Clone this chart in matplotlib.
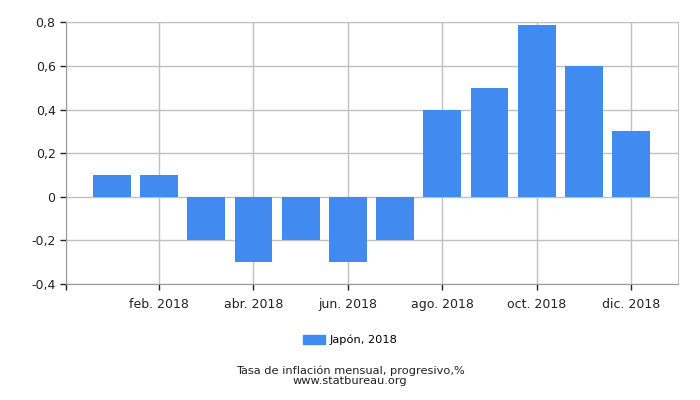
import matplotlib.pyplot as plt
from matplotlib.patches import Patch

meses = list(range(12))
valores = [0.1, 0.1, -0.2, -0.3, -0.2, -0.3, -0.2, 0.4, 0.5, 0.79, 0.6, 0.3]
etiquetas_x = ["feb. 2018", "abr. 2018", "jun. 2018", "ago. 2018", "oct. 2018", "dic. 2018"]
posiciones_x = [1, 3, 5, 7, 9, 11]
valores_y = [-0.4, -0.2, 0, 0.2, 0.4, 0.6, 0.8]
etiquetas_y = ["-0,4", "-0,2", "0", "0,2", "0,4", "0,6", "0,8"]
serie = "Japón, 2018"
titulo = "Tasa de inflación mensual, progresivo,%"
fuente = "www.statbureau.org"

COLOR = "#418bf0"
XMIN, XMAX = -0.97, 11.99

fig = plt.figure(figsize=(7, 4), dpi=100)
ax = fig.add_axes([66 / 700, 116 / 400, 612 / 700, 261.5 / 400])

ax.bar(meses, valores, width=0.8, color=COLOR, zorder=3)

ax.set_xlim(XMIN, XMAX)
ax.set_ylim(-0.4, 0.8)
ax.set_yticks(valores_y)
ax.set_yticklabels(etiquetas_y)
ax.set_xticks([XMIN] + posiciones_x)
ax.set_xticklabels([""] + etiquetas_x)

ax.grid(True, color="#c0c0c0", linewidth=1, zorder=0)
ax.set_axisbelow(True)
for lado in ["top", "right"]:
    ax.spines[lado].set_color("#c0c0c0")
for lado in ["left", "bottom"]:
    ax.spines[lado].set_color("#999999")
ax.tick_params(axis="both", labelsize=9, colors="#222222", length=4, width=1)
ax.tick_params(axis="x", pad=6)

fig.legend(handles=[Patch(color=COLOR, label=serie)], loc="center",
           bbox_to_anchor=(0.5, 1 - 340 / 400), frameon=False, fontsize=8.2,
           handlelength=1.95, handleheight=0.8, handletextpad=0.4)
fig.text(0.5, 1 - 370.5 / 400, titulo, ha="center", va="center", fontsize=8.2, color="#222222")
fig.text(0.5, 1 - 381.5 / 400, fuente, ha="center", va="center", fontsize=8.2, color="#222222")

fig.savefig("out.png")
